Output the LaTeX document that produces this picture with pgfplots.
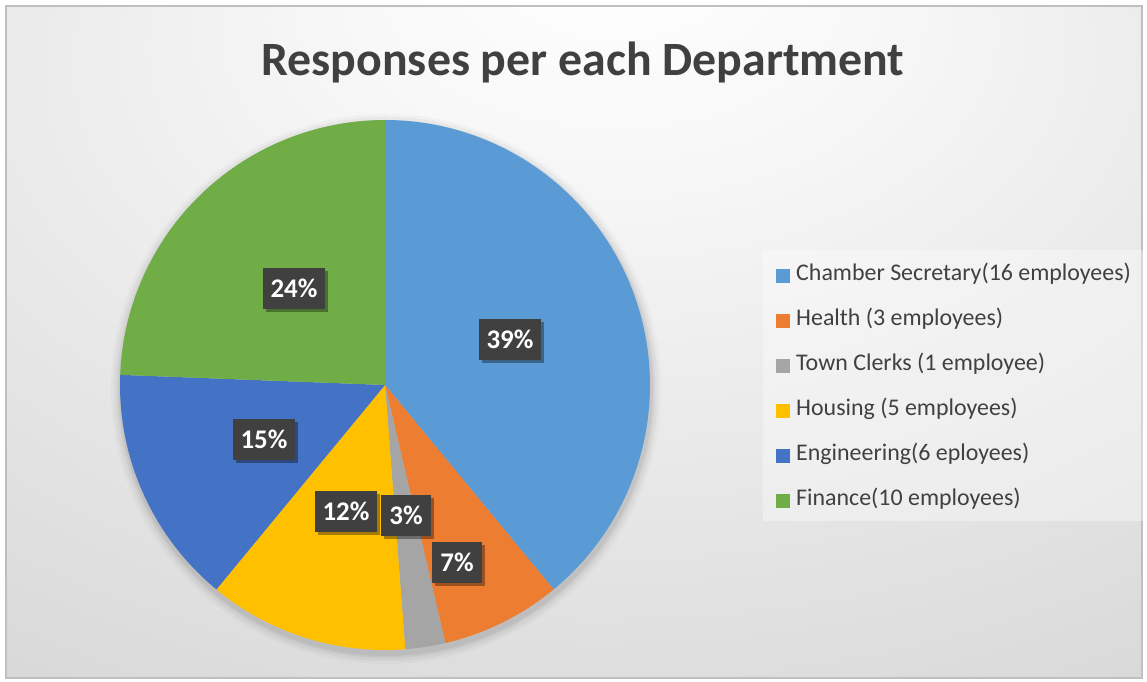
\documentclass[border=0pt]{standalone}
\usepackage{pgfplots}
\pgfplotsset{compat=1.18}
\usepackage{fontspec}
\setmainfont{Carlito}
\usetikzlibrary{shadows}
\definecolor{cCS}{HTML}{5B9BD5}
\definecolor{cHE}{HTML}{ED7D31}
\definecolor{cTC}{HTML}{A5A5A5}
\definecolor{cHO}{HTML}{FFC000}
\definecolor{cEN}{HTML}{4472C4}
\definecolor{cFI}{HTML}{70AD47}
\definecolor{txt}{HTML}{404040}
\pgfdeclareradialshading{bgshade}{\pgfpoint{2bp}{30bp}}{color(0bp)=(white); color(12bp)=(white!97!black); color(50bp)=(black!17); color(75bp)=(black!24)}
\tikzset{lab/.style={fill=txt, text=white, font=\fontsize{27}{31}\selectfont\bfseries,
    inner xsep=8bp, inner ysep=0pt, minimum height=41bp, text height=17.5bp, text depth=1bp,
    drop shadow={shadow xshift=3bp, shadow yshift=-3bp, opacity=0.35, fill=black}}}
% data: employees per department
\def\vCS{16}\def\vHE{3}\def\vTC{1}\def\vHO{5}\def\vEN{6}\def\vFI{10}
\pgfmathsetmacro\tot{\vCS+\vHE+\vTC+\vHO+\vEN+\vFI}
\pgfmathsetmacro\aA{90}
\pgfmathsetmacro\aB{\aA-360*\vCS/\tot}
\pgfmathsetmacro\aC{\aB-360*\vHE/\tot}
\pgfmathsetmacro\aD{\aC-360*\vTC/\tot}
\pgfmathsetmacro\aE{\aD-360*\vHO/\tot}
\pgfmathsetmacro\aF{\aE-360*\vEN/\tot}
\pgfmathsetmacro\aG{\aF-360*\vFI/\tot}
\begin{document}
\begin{tikzpicture}[x=1bp,y=1bp]
\fill[white] (0,0) rectangle (1147,682);
\shade[shading=bgshade] (6,4) rectangle (1142,676);
\draw[black!25, line width=1.2bp] (6,4) rectangle (1142,676);
\fill[white, opacity=0.35] (763,161) rectangle (1143,432);
\foreach \r/\o in {275/0.025,272/0.035,269/0.045,267/0.05}{
  \fill[black, opacity=\o] (386,293) circle (\r);
}
\begin{axis}[x=1bp, y=1bp, xmin=0, xmax=1147, ymin=0, ymax=682,
  hide axis, scale only axis, clip=false, anchor=south west, at={(0,0)},
  legend image code/.code={\fill[#1] (0bp,-7bp) rectangle (14bp,7bp); \path (20bp,0bp);},
  legend style={at={(0.67655,0.61070)}, anchor=north west, draw=none, fill=none,
    font=\fontsize{24}{28}\selectfont, text=txt, inner sep=0pt, row sep=25bp,
    nodes={inner sep=0pt, text height=15bp, text depth=5bp}},
  legend cell align=left
]
\addplot[fill=cCS, draw=none, domain=\aB:\aA, samples=120] ({385+265*cos(x)},{297+265*sin(x)}) -- (axis cs:385,297) -- cycle;
\addlegendentry{Chamber Secretary(16 employees)}
\addplot[fill=cHE, draw=none, domain=\aC:\aB, samples=40] ({385+265*cos(x)},{297+265*sin(x)}) -- (axis cs:385,297) -- cycle;
\addlegendentry{Health (3 employees)}
\addplot[fill=cTC, draw=none, domain=\aD:\aC, samples=20] ({385+265*cos(x)},{297+265*sin(x)}) -- (axis cs:385,297) -- cycle;
\addlegendentry{Town Clerks (1 employee)}
\addplot[fill=cHO, draw=none, domain=\aE:\aD, samples=50] ({385+265*cos(x)},{297+265*sin(x)}) -- (axis cs:385,297) -- cycle;
\addlegendentry{Housing (5 employees)}
\addplot[fill=cEN, draw=none, domain=\aF:\aE, samples=60] ({385+265*cos(x)},{297+265*sin(x)}) -- (axis cs:385,297) -- cycle;
\addlegendentry{Engineering(6 eployees)}
\addplot[fill=cFI, draw=none, domain=\aG:\aF, samples=90] ({385+265*cos(x)},{297+265*sin(x)}) -- (axis cs:385,297) -- cycle;
\addlegendentry{Finance(10 employees)}
\node[lab] at (axis cs:294,393) {24\%};
\node[lab] at (axis cs:510,342) {39\%};
\node[lab] at (axis cs:264,242) {15\%};
\node[lab] at (axis cs:346,170) {12\%};
\node[lab] at (axis cs:406,166) {3\%};
\node[lab] at (axis cs:457,119) {7\%};
\end{axis}
\node[anchor=base, text=txt, font=\fontsize{48}{54}\selectfont\bfseries] at (583,606) {Responses per each Department};
\end{tikzpicture}
\end{document}
